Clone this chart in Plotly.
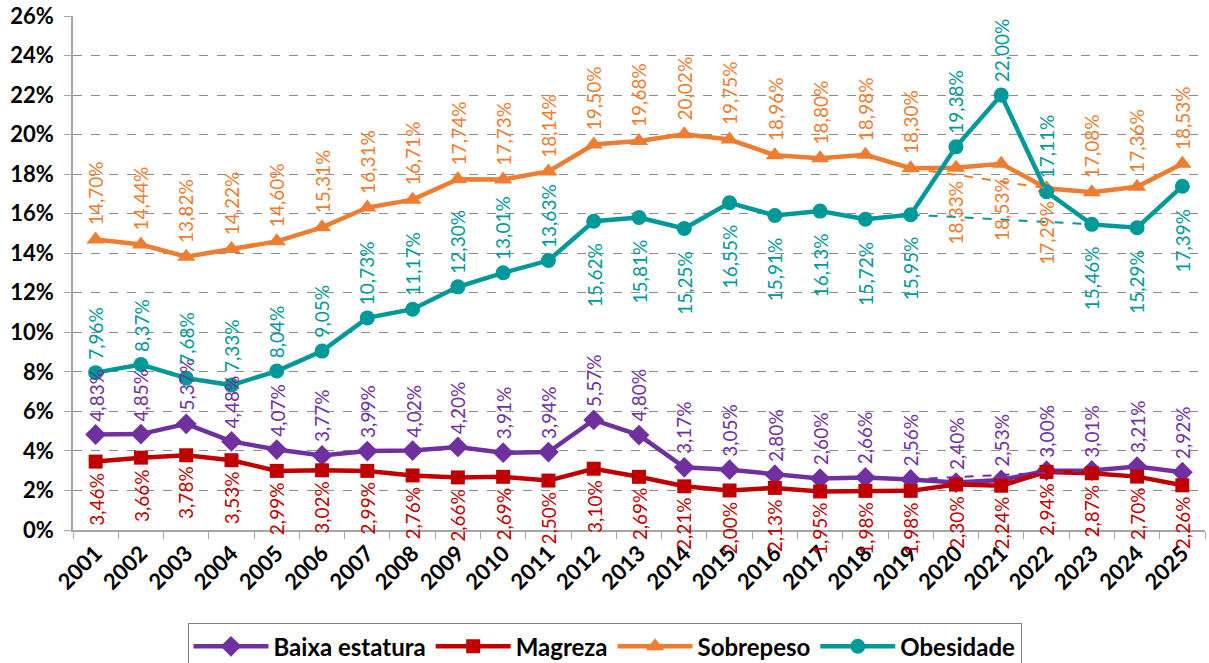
import plotly.graph_objects as go

# ---------------- data ----------------
years = [str(y) for y in range(2001, 2026)]

baixa_estatura = [4.83, 4.85, 5.37, 4.48, 4.07, 3.77, 3.99, 4.02, 4.20, 3.91, 3.94, 5.57, 4.80,
                  3.17, 3.05, 2.80, 2.60, 2.66, 2.56, 2.40, 2.53, 3.00, 3.01, 3.21, 2.92]
magreza = [3.46, 3.66, 3.78, 3.53, 2.99, 3.02, 2.99, 2.76, 2.66, 2.69, 2.50, 3.10, 2.69,
           2.21, 2.00, 2.13, 1.95, 1.98, 1.98, 2.30, 2.24, 2.94, 2.87, 2.70, 2.26]
sobrepeso = [14.70, 14.44, 13.82, 14.22, 14.60, 15.31, 16.31, 16.71, 17.74, 17.73, 18.14, 19.50, 19.68,
             20.02, 19.75, 18.96, 18.80, 18.98, 18.30, 18.33, 18.53, 17.29, 17.08, 17.36, 18.53]
obesidade = [7.96, 8.37, 7.68, 7.33, 8.04, 9.05, 10.73, 11.17, 12.30, 13.01, 13.63, 15.62, 15.81,
             15.25, 16.55, 15.91, 16.13, 15.72, 15.95, 19.38, 22.00, 17.11, 15.46, 15.29, 17.39]

# dashed trend lines skipping the pandemic years (start year, end year)
trend_baixa_years = ["2019", "2023"]
trend_sobrepeso_years = ["2019", "2022"]
trend_obesidade_years = ["2019", "2023"]

y_ticks = list(range(0, 27, 2))
y_tick_labels = [f"{t}%" for t in y_ticks]

# ---------------- style ----------------
FONT = "Lato, Open Sans, sans-serif"
C_BAIXA = "#7030A0"
C_MAGREZA = "#C00000"
C_SOBRE = "#ED7D31"
C_OBES = "#009999"

series = [
    ("Baixa estatura", baixa_estatura, C_BAIXA, "diamond", 16),
    ("Magreza", magreza, C_MAGREZA, "square", 14),
    ("Sobrepeso", sobrepeso, C_SOBRE, "triangle-up", 16),
    ("Obesidade", obesidade, C_OBES, "circle", 15),
]

fig = go.Figure()

for name, data, col, sym, size in series:
    fig.add_trace(go.Scatter(x=years, y=data, mode="lines+markers", name=name,
                             line=dict(color=col, width=4.5),
                             marker=dict(symbol=sym, size=size, color=col)))

# dashed trend traces
for yrs, data, col in [(trend_baixa_years, baixa_estatura, C_BAIXA),
                       (trend_sobrepeso_years, sobrepeso, C_SOBRE),
                       (trend_obesidade_years, obesidade, C_OBES)]:
    vals = [data[years.index(y)] for y in yrs]
    fig.add_trace(go.Scatter(x=yrs, y=vals, mode="lines", showlegend=False, hoverinfo="skip",
                             line=dict(color=col, width=2, dash="dash")))

# label placement
below_sobre = {"2020", "2021", "2022"}
above_obes = set(str(y) for y in range(2001, 2012)) | {"2020", "2021", "2022"}

def fmt(v):
    return f"{v:.2f}%".replace(".", ",")

annotations = []
for name, data, col, sym, size in series:
    for i, (yr, v) in enumerate(zip(years, data)):
        if name == "Baixa estatura":
            above, gap = True, 11
        elif name == "Magreza":
            above, gap = False, 9
        elif name == "Sobrepeso":
            above = yr not in below_sobre
            gap = 12 if above else 11
        else:
            above = yr in above_obes
            gap = 11 if above else 20
        annotations.append(dict(
            x=i, y=v, xref="x", yref="y", text=fmt(v), showarrow=False,
            textangle=-90, font=dict(family=FONT, size=19, color=col),
            yanchor="bottom" if above else "top",
            yshift=gap if above else -gap,
        ))

fig.update_layout(
    template="none",
    width=1209, height=663,
    margin=dict(l=73, r=4, t=16, b=133),
    paper_bgcolor="white", plot_bgcolor="white",
    font=dict(family=FONT, color="black"),
    annotations=annotations,
    legend=dict(orientation="h", xref="container", x=0.5, xanchor="center",
                yref="container", y=0.06, yanchor="top",
                bordercolor="#808080", borderwidth=1, bgcolor="white",
                font=dict(family=FONT, size=24, color="black", weight="bold"),
                itemwidth=75, traceorder="normal"),
    showlegend=True,
)

fig.update_xaxes(type="category", categoryorder="array", categoryarray=years,
                 tickson="boundaries", ticks="outside", ticklen=7,
                 tickcolor="#A6A6A6", showline=True, linecolor="#A6A6A6", linewidth=1.5,
                 showgrid=False, zeroline=False, tickangle=-45, automargin=False,
                 tickfont=dict(family=FONT, size=22, color="black", weight="bold"),
                 range=[-0.5, 24.5])
fig.update_yaxes(range=[0, 26], tickvals=y_ticks, ticktext=y_tick_labels, ticks="outside", ticklen=7,
                 tickcolor="#A6A6A6", showline=True, linecolor="#A6A6A6", linewidth=1.5,
                 showgrid=True, gridcolor="#8C8C8C", griddash="dash", gridwidth=1,
                 zeroline=False, automargin=False, ticklabelstandoff=6,
                 tickfont=dict(family=FONT, size=22, color="black", weight="bold"))

# remove the default page margin so the figure fills the window exactly
fig.write_html("out.html", config={"displayModeBar": False},
               post_script="document.body.style.margin='0';")
